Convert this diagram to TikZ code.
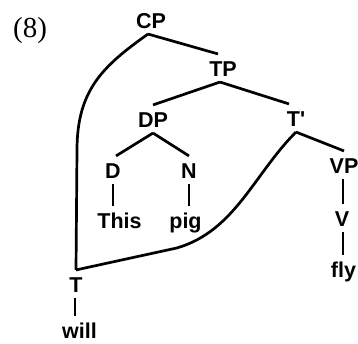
\documentclass[tikz,border=0pt]{standalone}
\usepackage{fontspec}
\newfontfamily\treefont{Liberation Sans}
\newfontfamily\exfont{Liberation Serif}
\usepackage{tikz}

\begin{document}
\begin{tikzpicture}[
  x=1pt,y=1pt,
  lbl/.style={font=\treefont\bfseries\fontsize{21.5}{24}\selectfont,
    text height=20.4pt,text depth=4.3pt,inner sep=1.5pt},
  branch/.style={line width=2.7pt,black},
  move/.style={line width=2.7pt,black},
]
  \useasboundingbox (0,0) rectangle (358,344);

  \node[font=\exfont\fontsize{29}{32}\selectfont,anchor=base,inner sep=0pt] (ex) at (30,306) {(8)};

  % tree nodes
  \node[lbl] (CP) at (151,324) {CP};
  \node[lbl] (TP) at (223,276) {TP};
  \node[lbl] (DP) at (153,225) {DP};
  \node[lbl] (Tb) at (296,226) {T'};
  \node[lbl] (D) at (113,174) {D};
  \node[lbl] (N) at (189,174) {N};
  \node[lbl] (VP) at (344,179) {VP};
  \node[lbl] (this) at (119.5,124) {This};
  \node[lbl] (pig) at (185.5,124) {pig};
  \node[lbl] (V) at (342,126) {V};
  \node[lbl] (fly) at (343.5,75) {fly};
  \node[lbl] (T) at (76,60) {T};
  \node[lbl] (will) at (79.5,14) {will};

  % branches
  \draw[branch] ([xshift=-3pt]CP.south) -- ([xshift=-5pt]TP.north);
  \draw[branch] ([xshift=-3pt]TP.south) -- (DP.north);
  \draw[branch] ([xshift=-3pt]TP.south) -- ([xshift=-7pt]Tb.north);
  \draw[branch] (DP.south) -- ([xshift=3pt]D.north);
  \draw[branch] (DP.south) -- (N.north);
  \draw[branch] (Tb.south) -- (VP.north);
  \draw[branch] (D.south) -- (D.south |- this.north);
  \draw[branch] (N.south) -- (N.south |- pig.north);
  \draw[branch] ([xshift=-1pt]VP.south) -- ([xshift=-1pt]VP.south |- V.north);
  \draw[branch] ([xshift=1pt]V.south) -- ([xshift=1pt]V.south |- fly.north);
  \draw[branch] ([xshift=-1pt]T.south) -- ([xshift=-1pt]T.south |- will.north);

  % movement of T to CP and from T'
  \draw[move] ([xshift=-3pt]CP.south) .. controls +(-45,-32) and +(0,60)
    .. ([shift={(1,120)}]T.north) -- (T.north);
  \draw[move] (Tb.south) .. controls +(-42,-42) and +(58,17)
    .. ([shift={(101,22)}]T.north) -- (T.north);
\end{tikzpicture}
\end{document}
